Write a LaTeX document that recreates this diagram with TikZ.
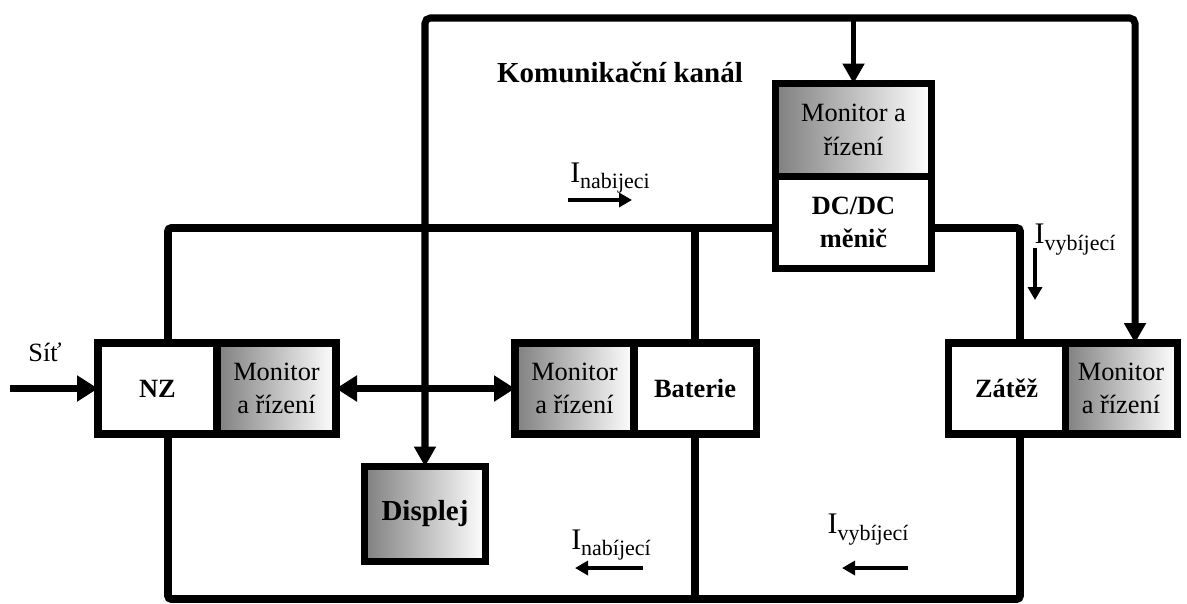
\documentclass[tikz,border=0pt]{standalone}
\usepackage{fontspec}
\setmainfont{Liberation Serif}
\usetikzlibrary{arrows.meta,positioning}
\tikzset{
  plainbox/.style={rectangle,draw=black,line width=4pt,fill=white,outer sep=0pt,minimum height=1.82cm,align=center,font=\fontsize{15}{19}\selectfont\bfseries},
  monbox/.style={rectangle,draw=black,line width=4pt,left color=black!50,right color=white,outer sep=0pt,minimum height=1.82cm,align=center,font=\fontsize{15}{19}\selectfont},
  bus/.style={line width=4.5pt,draw=black,rounded corners=2pt},
  komarrow/.style={-{Triangle[length=0.4cm,width=0.42cm]},line width=4pt,draw=black},
  dblarrow/.style={{Triangle[length=0.42cm,width=0.5cm]}-{Triangle[length=0.42cm,width=0.5cm]},line width=4.5pt,draw=black},
  curarrow/.style={-{Triangle[length=0.26cm,width=0.28cm]},line width=2.5pt,draw=black},
  curlabel/.style={font=\fontsize{17}{17}\selectfont,inner sep=0pt}
}
\newcommand{\proud}[1]{I\raisebox{-0.5ex}{\fontsize{12.5}{12.5}\selectfont #1}}

\begin{document}
\begin{tikzpicture}
  \useasboundingbox (0,0) rectangle (23.74,-12.06);

  % bloky
  \node[plainbox,minimum width=2.38cm] (nz) at (3.15,-7.77) {NZ};
  \node[monbox,minimum width=2.38cm,right=0pt of nz] (nzmon) {Monitor\\a řízení};
  \node[monbox,minimum width=2.38cm] (batmon) at (11.49,-7.77) {Monitor\\a řízení};
  \node[plainbox,minimum width=2.44cm,right=0pt of batmon] (bat) {Baterie};
  \node[plainbox,minimum width=2.34cm] (zat) at (20.13,-7.77) {Zátěž};
  \node[monbox,minimum width=2.24cm,right=0pt of zat] (zatmon) {Monitor\\a řízení};
  \node[plainbox,minimum width=3.12cm,minimum height=1.84cm] (dc) at (17.07,-4.45) {DC/DC\\měnič};
  \node[monbox,minimum width=3.12cm,minimum height=1.86cm,above=0pt of dc] (dcmon) {Monitor a\\řízení};
  \node[monbox,font=\fontsize{16.5}{19}\selectfont\bfseries,minimum width=2.42cm,minimum height=1.9cm] (disp) at (8.5,-10.28) {Displej};

  % popisky
  \node[font=\fontsize{15}{19}\selectfont] (sitlbl) at (0.9,-7.04) {Síť};
  \node[font=\fontsize{16.5}{20}\selectfont\bfseries] (title) at (12.4,-1.44) {Komunikační kanál};
  \node[curlabel] (inab1) at (12.2,-3.56) {\proud{nabijeci}};
  \node[curlabel] (ivyb1) at (21.5,-4.8) {\proud{vybíjecí}};
  \node[curlabel] (inab2) at (12.22,-10.9) {\proud{nabíjecí}};
  \node[curlabel] (ivyb2) at (17.36,-10.6) {\proud{vybíjecí}};

  % pomocne body
  \coordinate (ktl) at (8.5,-0.36);
  \coordinate (ktr) at (22.7,-0.36);
  \coordinate (bl) at (3.36,-4.56);
  \coordinate (br) at (20.4,-4.56);
  \coordinate (bbl) at (3.36,-11.98);
  \coordinate (bbr) at (20.4,-11.98);
  \coordinate (sit) at (0.2,-7.77);

  % napajeci vedeni
  \draw[bus] (nz.north -| bl) -- (bl) -- (bl -| dc.west);
  \draw[bus] (bl -| dc.east) -- (br) -- (br |- zat.north);
  \draw[bus] (bat.north) -- (bat.north |- bl);
  \draw[bus] (nz.south -| bbl) -- (bbl) -- (bbr) -- (br |- zat.south);
  \draw[bus] (bat.south) -- (bat.south |- bbl);

  % komunikacni kanal
  \draw[komarrow,{Triangle[length=0.4cm,width=0.42cm]}-{Triangle[length=0.4cm,width=0.42cm]},rounded corners=3pt]
    (disp.north) -- (ktl) -- (ktr) -- (ktr |- zatmon.north);
  \draw[komarrow,line width=3pt] (dcmon.north |- ktl) -- (dcmon.north);
  \draw[dblarrow] (nzmon.east) -- (batmon.west);
  \draw[dblarrow,-{Triangle[length=0.42cm,width=0.5cm]}] (sit) -- (nz.west);

  % smery proudu
  \draw[curarrow] (11.36,-4.0) coordinate (a1s) -- (12.64,-4.0) coordinate (a1e);
  \draw[curarrow] (20.7,-4.96) coordinate (a2s) -- (20.7,-6.0) coordinate (a2e);
  \draw[curarrow] (12.86,-11.36) coordinate (a3s) -- (11.5,-11.36) coordinate (a3e);
  \draw[curarrow] (18.16,-11.36) coordinate (a4s) -- (16.84,-11.36) coordinate (a4e);
\end{tikzpicture}
\end{document}
